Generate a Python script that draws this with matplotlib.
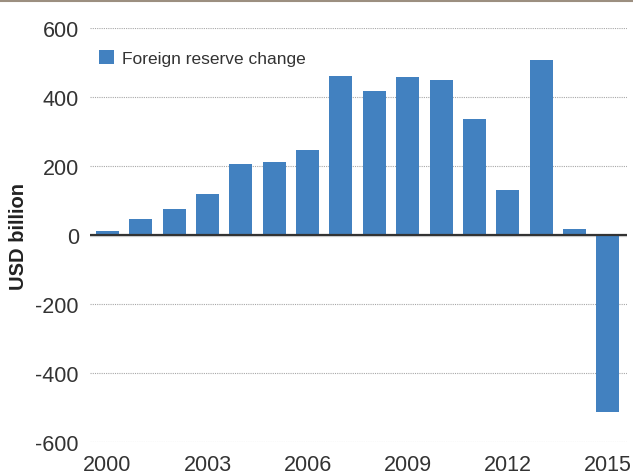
import matplotlib
matplotlib.use('Agg')
import matplotlib.pyplot as plt
from matplotlib.patches import Patch
from matplotlib.lines import Line2D

years = list(range(2000, 2016))
reserve_change = [11, 47, 74, 119, 205, 212, 245, 461, 417, 457, 449, 335, 131, 507, 18, -513]
tick_years = [2000, 2003, 2006, 2009, 2012, 2015]
y_ticks = [-600, -400, -200, 0, 200, 400, 600]

plt.rcParams['font.family'] = ['Liberation Sans', 'DejaVu Sans']

bar_color = '#4281c0'
text_color = '#333333'

fig = plt.figure(figsize=(6.33, 4.77), dpi=100)
ax = fig.add_axes([90/633, 1 - 443/477, (627 - 90)/633, (443 - 29)/477])

ax.bar(years, reserve_change, width=0.69, color=bar_color, zorder=2)

ax.set_xlim(1999.48, 2015.57)
ax.set_ylim(-600, 600)

# dotted gridlines, zero line drawn solid on its own
for v in y_ticks:
    if v != 0:
        ax.axhline(v, color='#a8a8a8', lw=0.8, ls=(0, (1, 1)), zorder=1)
ax.axhline(-4, color='#dddddd', lw=1.0, zorder=1)
ax.axhline(0, color='#333333', lw=1.6, zorder=3)

ax.set_yticks(y_ticks)
ax.set_yticklabels([str(v) for v in y_ticks])
ax.set_xticks(tick_years)
ax.set_xticklabels([str(y) for y in tick_years])
ax.tick_params(axis='both', length=0, labelsize=15.5, colors=text_color)
ax.tick_params(axis='y', pad=8)
ax.tick_params(axis='x', pad=8.5)

for s in ax.spines.values():
    s.set_visible(False)

ax.set_ylabel('USD billion', fontsize=14.5, fontweight='bold', color='#222222')
ax.yaxis.set_label_coords(-62/537, 0.5)

ax.legend(handles=[Patch(facecolor=bar_color, label='Foreign reserve change')],
          loc='upper left', bbox_to_anchor=(0.017, 0.946), frameon=False,
          borderpad=0, borderaxespad=0,
          fontsize=12.5, handlelength=0.85, handleheight=0.85, handletextpad=0.45,
          labelcolor=text_color)

# thin rule across the top of the figure
fig.add_artist(Line2D([0, 1], [1 - 1.5/477, 1 - 1.5/477], color='#9c8f80', lw=1.5,
                      transform=fig.transFigure))

fig.savefig('out.png', dpi=100)
